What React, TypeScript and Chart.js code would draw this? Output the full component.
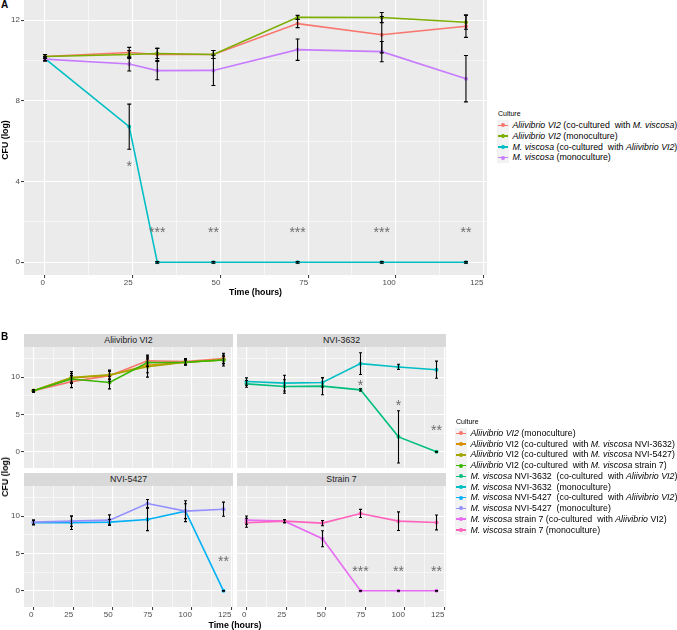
import React, { useEffect, useRef } from 'react';
import { Chart, registerables } from 'chart.js';

Chart.register(...registerables);

const FONT = "'Liberation Sans', Arial, Helvetica, sans-serif";

// ---------- Panel A: single co-culture experiment ----------
const hoursA = [0, 24, 32, 48, 72, 96, 120];
const aliCoA = [10.2, 10.4, 10.3, 10.3, 11.83, 11.28, 11.7];
const aliCoErrA = [0.1, 0.25, 0.3, 0.2, 0.2, 0.9, 0.55];
const aliMonoA = [10.2, 10.3, 10.35, 10.3, 12.14, 12.13, 11.9];
const aliMonoErrA = [0.1, 0.2, 0.25, 0.2, 0.1, 0.25, 0.35];
const visCoA = [10.1, 6.72, 0, 0, 0, 0, 0];
const visCoErrA = [0.1, 1.12, 0.04, 0.04, 0.04, 0.04, 0.04];
const visMonoA = [10.07, 9.83, 9.5, 9.51, 10.54, 10.44, 9.1];
const visMonoErrA = [0.1, 0.35, 0.45, 0.75, 0.53, 0.5, 1.15];
const colorsA = ['#F8766D', '#7CAE00', '#00BFC4', '#C77CFF'];
const starHoursA = [24, 32, 48, 72, 96, 120];
const starLevelA = [4.9, 1.64, 1.64, 1.64, 1.64, 1.64];
const starTextA = ['*', '***', '**', '***', '***', '**'];

// ---------- Panel B: strain-by-strain experiment ----------
const hoursB = [0, 24, 48, 72, 96, 120];
// Aliivibrio VI2 facet
const aliMonoB = [8.17, 9.4, 10.2, 12.2, 12.1, 12.5];
const aliMonoErrB = [0.15, 0.8, 0.75, 0.75, 0.4, 0.7];
const aliCo3632B = [8.17, 9.9, 10.25, 11.6, 12.0, 12.35];
const aliCo3632ErrB = [0.15, 0.6, 0.5, 1.0, 0.4, 0.5];
const aliCo5427B = [8.17, 9.95, 10.3, 11.4, 12.0, 12.3];
const aliCo5427ErrB = [0.15, 0.8, 0.6, 1.4, 0.35, 0.5];
const aliCo7B = [8.17, 9.75, 9.28, 11.95, 12.0, 12.3];
const aliCo7ErrB = [0.15, 0.5, 0.85, 0.5, 0.3, 0.8];
// NVI-3632 facet
const nvi3632CoB = [9.1, 8.75, 8.8, 8.3, 2.0, 0];
const nvi3632CoErrB = [0.45, 0.9, 1.15, 0.15, 3.5, 0.05];
const nvi3632MonoB = [9.41, 9.2, 9.28, 11.81, 11.37, 11.0];
const nvi3632MonoErrB = [0.5, 1.05, 0.6, 1.45, 0.35, 1.15];
// NVI-5427 facet
const nvi5427CoB = [9.11, 9.11, 9.2, 9.56, 10.67, 0];
const nvi5427CoErrB = [0.3, 0.9, 0.35, 1.5, 1.4, 0.05];
const nvi5427MonoB = [9.2, 9.33, 9.47, 11.69, 10.67, 10.93];
const nvi5427MonoErrB = [0.3, 0.7, 0.7, 0.55, 1.0, 0.95];
// Strain 7 facet
const s7CoB = [9.47, 9.33, 6.98, 0, 0, 0];
const s7CoErrB = [0.55, 0.2, 1.07, 0.05, 0.05, 0.05];
const s7MonoB = [9.11, 9.33, 9.07, 10.36, 9.33, 9.16];
const s7MonoErrB = [0.6, 0.2, 0.35, 0.55, 1.25, 1.0];

const colorsB = ['#F8766D', '#D89000', '#A3A500', '#39B600', '#00BF7D', '#00BFC4', '#00B0F6', '#9590FF', '#E76BF3', '#FF62BC'];

const stars3632Hours = [72, 96, 120];
const stars3632Level = [9.33, 6.6, 3.3];
const stars3632Text = ['*', '*', '**'];
const stars5427Hours = [120];
const stars5427Level = [4.27];
const stars5427Text = ['**'];
const stars7Hours = [72, 96, 120];
const stars7Level = [2.93, 2.93, 2.93];
const stars7Text = ['***', '**', '**'];

const facetNames = ['Aliivibrio VI2', 'NVI-3632', 'NVI-5427', 'Strain 7'];

// ---------- axes ----------
const xTickValues = [0, 12.5, 25, 37.5, 50, 62.5, 75, 87.5, 100, 112.5, 125];
const xMajorTicks = [0, 25, 50, 75, 100, 125];
const yTickValuesA = [0, 2, 4, 6, 8, 10, 12];
const yMajorTicksA = [0, 4, 8, 12];
const yTickValuesB = [0, 2.5, 5, 7.5, 10, 12.5];
const yMajorTicksB = [0, 5, 10];

type Seg = [string, boolean];

const legendA: Seg[][] = [
  [['Aliivibrio VI2', true], [' (co-cultured  with ', false], ['M. viscosa', true], [')', false]],
  [['Aliivibrio VI2', true], [' (monoculture)', false]],
  [['M. viscosa', true], [' (co-cultured  with ', false], ['Aliivibrio VI2', true], [')', false]],
  [['M. viscosa', true], [' (monoculture)', false]],
];

const legendB: Seg[][] = [
  [['Aliivibrio VI2', true], [' (monoculture)', false]],
  [['Aliivibrio', true], [' VI2 (co-cultured  with ', false], ['M. viscosa', true], [' NVI-3632)', false]],
  [['Aliivibrio', true], [' VI2 (co-cultured  with ', false], ['M. viscosa', true], [' NVI-5427)', false]],
  [['Aliivibrio', true], [' VI2 (co-cultured  with ', false], ['M. viscosa', true], [' strain 7)', false]],
  [['M. viscosa', true], [' NVI-3632  (co-cultured  with ', false], ['Aliivibrio VI2', true], [')', false]],
  [['M. viscosa', true], [' NVI-3632  (monoculture)', false]],
  [['M. viscosa', true], [' NVI-5427  (co-cultured  with ', false], ['Aliivibrio VI2', true], [')', false]],
  [['M. viscosa', true], [' NVI-5427  (monoculture)', false]],
  [['M. viscosa', true], [' strain 7 (co-cultured  with ', false], ['Aliivibrio', true], [' VI2)', false]],
  [['M. viscosa', true], [' strain 7 (monoculture)', false]],
];

interface Series { values: number[]; errors: number[]; color: string }

interface FacetProps {
  x: number; y: number; w: number; h: number;
  times: number[];
  series: Series[];
  starHours: number[]; starLevel: number[]; starText: string[];
  yMin: number; yMax: number; yTicks: number[]; yMajor: number[];
  showX: boolean; showY: boolean;
  cap: number;
}

const PAD = 8;

function Facet(p: FacetProps) {
  const ref = useRef<HTMLCanvasElement | null>(null);
  const yW = p.showY ? 24 : 0;
  const xH = p.showX ? 16 : 0;
  const cw = p.w + yW + 2 * PAD;
  const ch = p.h + xH + 2 * PAD;

  useEffect(() => {
    const panelBg = {
      id: 'panelBg',
      beforeDraw(chart: any) {
        const { ctx, chartArea: a } = chart;
        ctx.save();
        ctx.fillStyle = '#EBEBEB';
        ctx.fillRect(a.left, a.top, a.right - a.left, a.bottom - a.top);
        ctx.restore();
      },
    };
    const errorBars = {
      id: 'errorBars',
      afterDatasetsDraw(chart: any) {
        const { ctx, chartArea: a } = chart;
        const ys = chart.scales.y;
        ctx.save();
        ctx.beginPath();
        ctx.rect(a.left, a.top, a.right - a.left, a.bottom - a.top);
        ctx.clip();
        ctx.strokeStyle = '#000000';
        ctx.lineWidth = 1.1;
        chart.data.datasets.forEach((ds: any, i: number) => {
          const meta = chart.getDatasetMeta(i);
          meta.data.forEach((pt: any, j: number) => {
            const e = ds.errors[j];
            const v = ds.data[j].y;
            const px = pt.x;
            const y1 = ys.getPixelForValue(v - e);
            const y2 = ys.getPixelForValue(v + e);
            ctx.beginPath();
            ctx.moveTo(px, y1);
            ctx.lineTo(px, y2);
            ctx.moveTo(px - p.cap, y1);
            ctx.lineTo(px + p.cap, y1);
            ctx.moveTo(px - p.cap, y2);
            ctx.lineTo(px + p.cap, y2);
            ctx.stroke();
          });
        });
        ctx.restore();
      },
    };
    const starLabels = {
      id: 'starLabels',
      afterDatasetsDraw(chart: any) {
        const { ctx } = chart;
        const xs = chart.scales.x;
        const ys = chart.scales.y;
        ctx.save();
        ctx.fillStyle = '#6E6E6E';
        ctx.font = `14px ${FONT}`;
        ctx.textAlign = 'center';
        ctx.textBaseline = 'middle';
        p.starText.forEach((t, i) => {
          ctx.fillText(t, xs.getPixelForValue(p.starHours[i]), ys.getPixelForValue(p.starLevel[i]) + 3.5);
        });
        ctx.restore();
      },
    };

    const tickFont = { family: FONT, size: 8 };
    const chart = new Chart(ref.current as HTMLCanvasElement, {
      type: 'line',
      data: {
        datasets: p.series.map((s, i) => ({
          data: p.times.map((t, j) => ({ x: t, y: s.values[j] })),
          errors: s.errors,
          borderColor: s.color,
          backgroundColor: s.color,
          borderWidth: 1.6,
          pointRadius: 2,
          pointBorderWidth: 0,
          pointHoverRadius: 2,
          tension: 0,
          order: -i,
        })) as any,
      },
      options: {
        animation: false,
        responsive: false,
        events: [],
        layout: { padding: PAD },
        plugins: { legend: { display: false }, tooltip: { enabled: false } },
        scales: {
          x: {
            type: 'linear',
            bounds: 'data',
            min: -6,
            max: 126,
            afterBuildTicks: (s: any) => { s.ticks = xTickValues.map((v) => ({ value: v })); },
            afterFit: (s: any) => { s.height = xH; },
            ticks: {
              display: p.showX,
              autoSkip: false,
              maxRotation: 0,
              minRotation: 0,
              align: 'end',
              padding: 0,
              color: '#4D4D4D',
              font: tickFont,
              callback: (v: any) => (xMajorTicks.includes(Number(v)) ? String(v) : ''),
            },
            grid: {
              color: '#FFFFFF',
              lineWidth: (c: any) => (xMajorTicks.includes(c.tick?.value) ? 1.1 : 0.55),
              drawTicks: p.showX,
              tickLength: 3,
              tickWidth: 1,
              tickColor: (c: any) => (xMajorTicks.includes(c.tick?.value) ? '#333333' : 'rgba(0,0,0,0)'),
            },
            border: { display: false },
          },
          y: {
            type: 'linear',
            bounds: 'data',
            min: p.yMin,
            max: p.yMax,
            afterBuildTicks: (s: any) => { s.ticks = p.yTicks.map((v) => ({ value: v })); },
            afterFit: (s: any) => { s.width = yW; },
            ticks: {
              display: p.showY,
              autoSkip: false,
              padding: 1,
              color: '#4D4D4D',
              font: tickFont,
              callback: (v: any) => (p.yMajor.includes(Number(v)) ? String(v) : ''),
            },
            grid: {
              color: '#FFFFFF',
              lineWidth: (c: any) => (p.yMajor.includes(c.tick?.value) ? 1.1 : 0.55),
              drawTicks: p.showY,
              tickLength: 3,
              tickWidth: 1,
              tickColor: (c: any) => (p.yMajor.includes(c.tick?.value) ? '#333333' : 'rgba(0,0,0,0)'),
            },
            border: { display: false },
          },
        },
      } as any,
      plugins: [panelBg, errorBars, starLabels],
    });
    return () => chart.destroy();
  }, []);

  return (
    <canvas
      ref={ref}
      width={cw}
      height={ch}
      style={{ position: 'absolute', left: p.x - yW - PAD, top: p.y - PAD, width: cw, height: ch }}
    />
  );
}

function Legend({ x, titleY, firstY, step, entries, colors }: { x: number; titleY: number; firstY: number; step: number; entries: Seg[][]; colors: string[] }) {
  return (
    <>
      <div style={{ position: 'absolute', left: x, top: titleY - 5, height: 10, lineHeight: '10px', fontSize: 7, color: '#000' }}>Culture</div>
      <div style={{ position: 'absolute', left: x - 1, top: firstY - step / 2, width: 12, height: step * entries.length, background: '#F2F2F2' }} />
      {entries.map((segs, i) => {
        const cy = firstY + i * step;
        return (
          <React.Fragment key={i}>
            <div style={{ position: 'absolute', left: x, top: cy - 0.75, width: 10, height: 1.5, background: colors[i] }} />
            <div style={{ position: 'absolute', left: x + 3, top: cy - 2, width: 4, height: 4, borderRadius: 2, background: colors[i] }} />
            <div style={{ position: 'absolute', left: x + 14.5, top: cy - step / 2, height: step, lineHeight: `${step}px`, fontSize: 8.8, whiteSpace: 'pre', color: '#000' }}>
              {segs.map(([t, it], k) => (it ? <i key={k}>{t}</i> : <span key={k}>{t}</span>))}
            </div>
          </React.Fragment>
        );
      })}
    </>
  );
}

function Strip({ x, y, w, h, text }: { x: number; y: number; w: number; h: number; text: string }) {
  return (
    <div style={{ position: 'absolute', left: x, top: y, width: w, height: h, background: '#D9D9D9', color: '#1A1A1A', fontSize: 8.8, lineHeight: `${h}px`, textAlign: 'center' }}>
      {text}
    </div>
  );
}

const titleStyle: React.CSSProperties = { position: 'absolute', fontWeight: 'bold', fontSize: 8.8, color: '#000', whiteSpace: 'nowrap' };

export default function App() {
  const seriesA: Series[] = [
    { values: aliCoA, errors: aliCoErrA, color: colorsA[0] },
    { values: aliMonoA, errors: aliMonoErrA, color: colorsA[1] },
    { values: visCoA, errors: visCoErrA, color: colorsA[2] },
    { values: visMonoA, errors: visMonoErrA, color: colorsA[3] },
  ];
  const seriesAli: Series[] = [
    { values: aliMonoB, errors: aliMonoErrB, color: colorsB[0] },
    { values: aliCo3632B, errors: aliCo3632ErrB, color: colorsB[1] },
    { values: aliCo5427B, errors: aliCo5427ErrB, color: colorsB[2] },
    { values: aliCo7B, errors: aliCo7ErrB, color: colorsB[3] },
  ];
  const series3632: Series[] = [
    { values: nvi3632CoB, errors: nvi3632CoErrB, color: colorsB[4] },
    { values: nvi3632MonoB, errors: nvi3632MonoErrB, color: colorsB[5] },
  ];
  const series5427: Series[] = [
    { values: nvi5427CoB, errors: nvi5427CoErrB, color: colorsB[6] },
    { values: nvi5427MonoB, errors: nvi5427MonoErrB, color: colorsB[7] },
  ];
  const series7: Series[] = [
    { values: s7CoB, errors: s7CoErrB, color: colorsB[8] },
    { values: s7MonoB, errors: s7MonoErrB, color: colorsB[9] },
  ];

  const bY = { yMin: -2.17, yMax: 14.04, yTicks: yTickValuesB, yMajor: yMajorTicksB, cap: 1.5 };
  const colL = 24, colR = 237, colW = 209;
  const rowT = 347, rowB = 486, rowH = 121, stripH = 13;

  return (
    <div style={{ position: 'absolute', left: 0, top: 0, width: 677, height: 630, background: '#FFFFFF', overflow: 'hidden', fontFamily: FONT }}>
      {/* Panel A */}
      <div style={{ ...titleStyle, left: 1, top: -1, fontSize: 10 }}>A</div>
      <Facet x={24} y={0} w={463} h={275} times={hoursA} series={seriesA}
        starHours={starHoursA} starLevel={starLevelA} starText={starTextA}
        yMin={-0.63} yMax={13.0} yTicks={yTickValuesA} yMajor={yMajorTicksA}
        showX={true} showY={true} cap={2} />
      <div style={{ ...titleStyle, left: 5, top: 140, transform: 'translate(-50%, -50%) rotate(-90deg)' }}>CFU (log)</div>
      <div style={{ ...titleStyle, left: 255.5, top: 292, transform: 'translate(-50%, -50%)' }}>Time (hours)</div>
      <Legend x={498} titleY={114.3} firstY={125.3} step={10.8} entries={legendA} colors={colorsA} />

      {/* Panel B */}
      <div style={{ ...titleStyle, left: 1, top: 331, fontSize: 10 }}>B</div>
      <Strip x={colL} y={rowT - stripH} w={colW} h={stripH} text={facetNames[0]} />
      <Strip x={colR} y={rowT - stripH} w={colW} h={stripH} text={facetNames[1]} />
      <Strip x={colL} y={rowB - stripH} w={colW} h={stripH} text={facetNames[2]} />
      <Strip x={colR} y={rowB - stripH} w={colW} h={stripH} text={facetNames[3]} />
      <Facet x={colL} y={rowT} w={colW} h={rowH} times={hoursB} series={seriesAli}
        starHours={[]} starLevel={[]} starText={[]} {...bY} showX={false} showY={true} />
      <Facet x={colR} y={rowT} w={colW} h={rowH} times={hoursB} series={series3632}
        starHours={stars3632Hours} starLevel={stars3632Level} starText={stars3632Text} {...bY} showX={false} showY={false} />
      <Facet x={colL} y={rowB} w={colW} h={rowH} times={hoursB} series={series5427}
        starHours={stars5427Hours} starLevel={stars5427Level} starText={stars5427Text} {...bY} showX={true} showY={true} />
      <Facet x={colR} y={rowB} w={colW} h={rowH} times={hoursB} series={series7}
        starHours={stars7Hours} starLevel={stars7Level} starText={stars7Text} {...bY} showX={true} showY={false} />
      <div style={{ ...titleStyle, left: 5, top: 477, transform: 'translate(-50%, -50%) rotate(-90deg)' }}>CFU (log)</div>
      <div style={{ ...titleStyle, left: 235, top: 625, transform: 'translate(-50%, -50%)' }}>Time (hours)</div>
      <Legend x={456} titleY={422} firstY={433.3} step={10.74} entries={legendB} colors={colorsB} />
    </div>
  );
}
